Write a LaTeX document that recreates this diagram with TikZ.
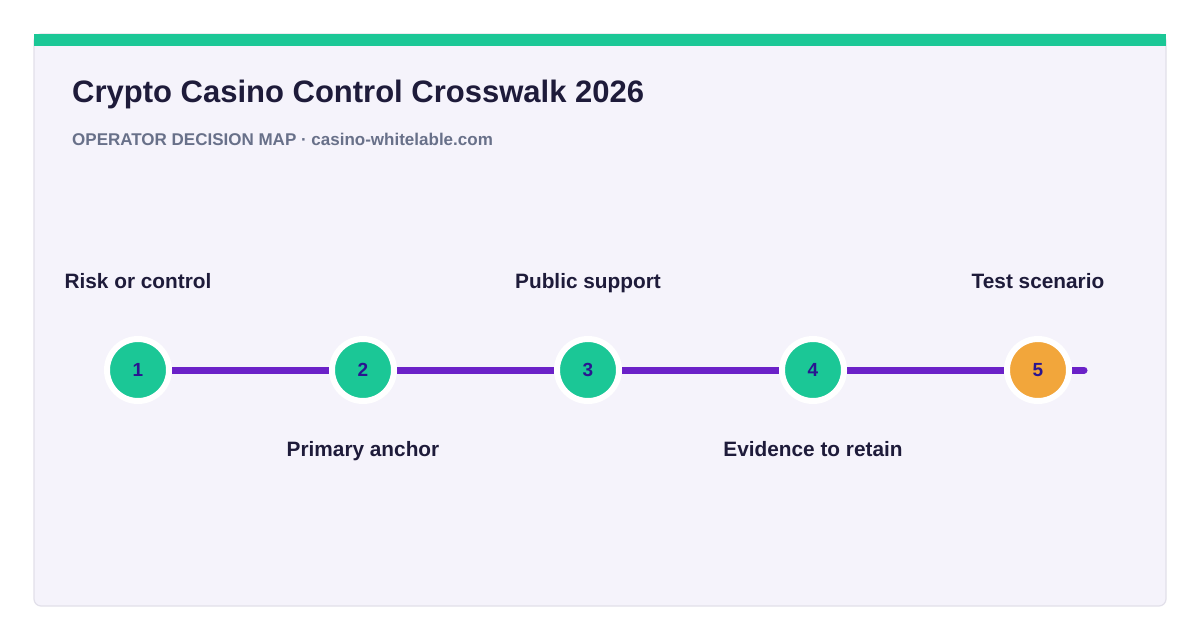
\documentclass[tikz,border=0pt]{standalone}
\usepackage{fontspec}
\setmainfont{Liberation Sans}
\definecolor{cardbg}{HTML}{F5F3FB}
\definecolor{cardline}{HTML}{E2E0EA}
\definecolor{mint}{HTML}{1BC796}
\definecolor{amber}{HTML}{F2A63B}
\definecolor{violet}{HTML}{6B21C8}
\definecolor{ink}{HTML}{1E1B3A}
\definecolor{numink}{HTML}{2A1590}
\definecolor{slate}{HTML}{687089}
\tikzset{
  stop/.style={circle, fill=#1, draw=white, line width=6pt, minimum size=62pt, inner sep=0pt,
    font=\bfseries\fontsize{19}{19}\selectfont, text=numink},
  lbl/.style={anchor=base, font=\bfseries\fontsize{20.8}{21}\selectfont, text=ink}
}
\begin{document}
\begin{tikzpicture}[x=1pt,y=-1pt]
\useasboundingbox (0,0) rectangle (1200,640);
\fill[white] (0,0) rectangle (1200,640);
% card with green band on top
\draw[cardline, fill=cardbg, line width=1.2pt, rounded corners=7pt] (34,34) rectangle (1166,606);
\fill[mint] (34,34) rectangle (1166,46);
\node[anchor=base west, inner sep=0pt, font=\bfseries\fontsize{31}{32}\selectfont, text=ink] (title) at (72,102) {Crypto Casino Control Crosswalk 2026};
\node[anchor=base west, inner sep=0pt, font=\bfseries\fontsize{17}{18}\selectfont, text=slate] (sub) at (72,145) {OPERATOR DECISION MAP · casino-whitelable.com};
% timeline
\coordinate (tail) at (1084,370);
\draw[violet, line width=7pt, line cap=round] (138,370) -- (tail);
\foreach \i/\x/\c in {1/138/mint, 2/363/mint, 3/588/mint, 4/813/mint, 5/1038/amber}
  \node[stop=\c] (s\i) at (\x,370) {\i};
\foreach \i/\t in {1/Risk or control, 3/Public support, 5/Test scenario}
  \node[lbl] (t\i) at ([yshift=82pt]s\i.center) {\t};
\foreach \i/\t in {2/Primary anchor, 4/Evidence to retain}
  \node[lbl] (t\i) at ([yshift=-86pt]s\i.center) {\t};
\end{tikzpicture}
\end{document}
